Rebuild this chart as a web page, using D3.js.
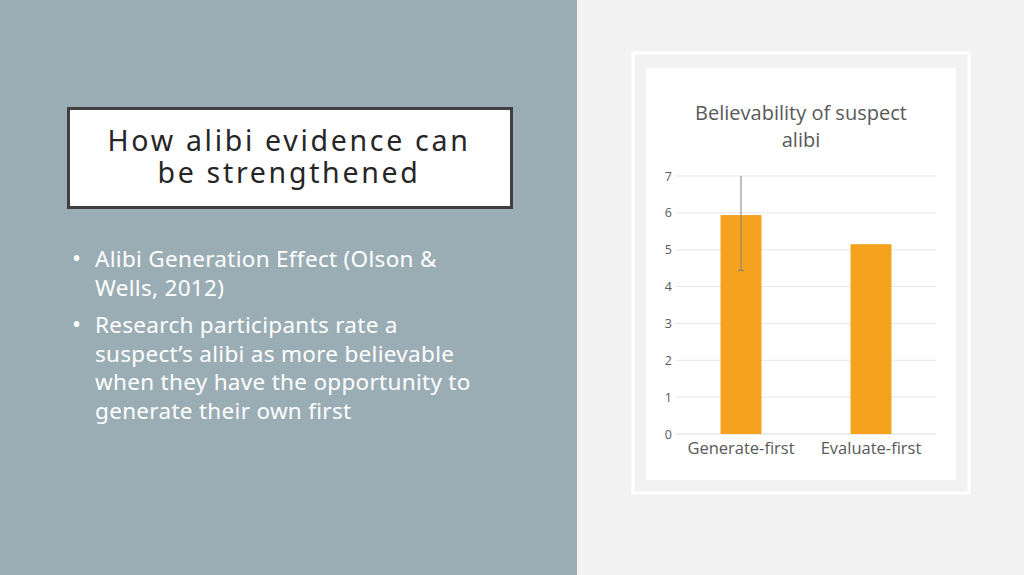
<!DOCTYPE html>
<html><head><meta charset="utf-8">
<script src="https://cdn.jsdelivr.net/npm/d3@7"></script>
<style>html,body{margin:0;padding:0;overflow:hidden;background:#f2f2f2}</style>
</head><body>
<script>
const categories = ["Generate-first", "Evaluate-first"];
const values = [5.94, 5.15];
const errors = [1.5, null];
const yTicks = [0, 1, 2, 3, 4, 5, 6, 7];
const titleLines = ["Believability of suspect", "alibi"];
const slideTitle = ["How alibi evidence can", "be strengthened"];
const bullets = [
  ["Alibi Generation Effect (Olson &", "Wells, 2012)"],
  ["Research participants rate a", "suspect’s alibi as more believable", "when they have the opportunity to", "generate their own first"]
];

const W = 1024, H = 575;
const svg = d3.select("body").append("svg").attr("width", W).attr("height", H);
const font = "'Open Sans', 'Noto Sans', sans-serif";
const font2 = "'Noto Sans', 'Open Sans', sans-serif";

// backgrounds
svg.append("rect").attr("x", 0).attr("y", 0).attr("width", W).attr("height", H).attr("fill", "#f2f2f2");
svg.append("rect").attr("x", 0).attr("y", 0).attr("width", 577).attr("height", H).attr("fill", "#9aadb5");

// title box
svg.append("rect").attr("x", 68.5).attr("y", 108.5).attr("width", 443).attr("height", 99)
  .attr("fill", "#ffffff").attr("stroke", "#3f3f3f").attr("stroke-width", 3);
svg.append("g").selectAll("text").data(slideTitle).join("text")
  .attr("x", 289).attr("y", (d, i) => 151 + i * 32)
  .attr("text-anchor", "middle").attr("font-family", font2).attr("font-size", 28.5)
  .attr("letter-spacing", 2.7).attr("fill", "#262626").text(d => d);

// bullets
let by = 267;
bullets.forEach((lines, bi) => {
  if (bi > 0) by += 9;
  svg.append("text").attr("x", 72).attr("y", by).attr("font-family", font2).attr("font-size", 24)
    .attr("fill", "#ffffff").text("•");
  lines.forEach((l, li) => {
    svg.append("text").attr("x", 95).attr("y", by).attr("font-family", font2).attr("font-size", 22.5)
      .attr("letter-spacing", 0.3).attr("fill", "#ffffff").text(l);
    by += 28.5;
  });
});

// chart frame
svg.append("rect").attr("x", 633).attr("y", 53).attr("width", 336).attr("height", 440)
  .attr("fill", "none").attr("stroke", "#ffffff").attr("stroke-width", 3);
svg.append("rect").attr("x", 646).attr("y", 68).attr("width", 310).attr("height", 412).attr("fill", "#ffffff");

// scales
const x = d3.scaleBand().domain(categories).range([676, 936]).paddingInner(0.685).paddingOuter(0.3425);
const y = d3.scaleLinear().domain([0, 7]).range([434, 176]);

// gridlines
svg.append("g").selectAll("line").data(yTicks).join("line")
  .attr("x1", 676).attr("x2", 936).attr("y1", d => y(d)).attr("y2", d => y(d))
  .attr("stroke", d => d === 0 ? "#d9d9d9" : "#e6e6e6").attr("stroke-width", 1);

// y axis labels
const yAxis = d3.axisLeft(y).tickValues(yTicks).tickFormat(d3.format("d")).tickSize(0).tickPadding(6);
const yg = svg.append("g").attr("transform", "translate(678,0)").call(yAxis);
yg.select(".domain").remove();
yg.selectAll("text").attr("font-family", font).attr("font-size", 12.5).attr("fill", "#595959");

// x axis labels
const xAxis = d3.axisBottom(x).tickSize(0).tickPadding(8);
const xg = svg.append("g").attr("transform", "translate(0,434)").call(xAxis);
xg.select(".domain").remove();
xg.selectAll("text").attr("font-family", font).attr("font-size", 16.5).attr("fill", "#595959");

// bars
svg.append("g").selectAll("rect").data(values).join("rect")
  .attr("x", (d, i) => x(categories[i])).attr("width", x.bandwidth())
  .attr("y", d => y(d)).attr("height", d => y(0) - y(d)).attr("fill", "#f5a31f");

// error bars
const eb = svg.append("g");
values.forEach((v, i) => {
  if (errors[i] == null) return;
  const cx = x(categories[i]) + x.bandwidth() / 2;
  const hi = Math.min(7, v + errors[i]), lo = v - errors[i];
  eb.append("line").attr("x1", cx).attr("x2", cx).attr("y1", y(hi)).attr("y2", y(lo))
    .attr("stroke", "#7f7f7f").attr("stroke-width", 1);
  eb.append("line").attr("x1", cx - 3).attr("x2", cx + 3).attr("y1", y(lo)).attr("y2", y(lo))
    .attr("stroke", "#7f7f7f").attr("stroke-width", 1);
});

// chart title
svg.append("g").selectAll("text").data(titleLines).join("text")
  .attr("x", 801).attr("y", (d, i) => 120 + i * 27)
  .attr("text-anchor", "middle").attr("font-family", font).attr("font-size", 20)
  .attr("fill", "#595959").text(d => d);
</script>
</body></html>
